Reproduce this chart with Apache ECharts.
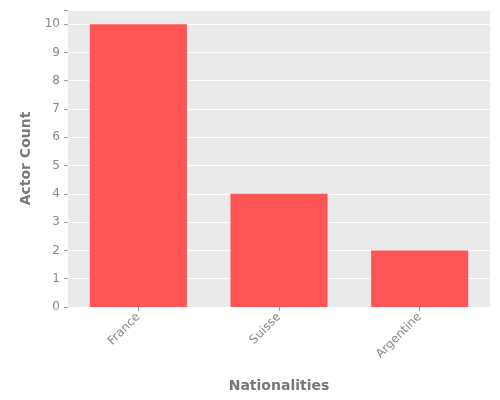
<!DOCTYPE html>
<html>
<head>
<meta charset="utf-8">
<script src="https://cdn.jsdelivr.net/npm/echarts@6/dist/echarts.min.js"></script>
<style>html,body{margin:0;padding:0;background:#fff}#c{width:500px;height:400px}</style>
</head>
<body>
<div id="c"></div>
<script>
const categories = ['France', 'Suisse', 'Argentine'];
const counts = [10, 4, 2];

const chart = echarts.init(document.getElementById('c'));
chart.setOption({
  animation: false,
  textStyle: { fontFamily: 'DejaVu Sans' },
  grid: {
    left: 68, right: 10, top: 10, bottom: 93,
    show: true, backgroundColor: '#ebebeb', borderWidth: 0
  },
  xAxis: {
    type: 'category',
    data: categories,
    name: 'Nationalities',
    nameLocation: 'middle',
    nameGap: 72,
    nameTextStyle: { fontSize: 14, fontWeight: 'bold', color: '#777' },
    axisLine: { show: false },
    axisTick: { show: true, alignWithLabel: true, length: 4, lineStyle: { color: '#999' } },
    axisLabel: { rotate: 45, color: '#888', fontSize: 12, margin: 8 },
    splitLine: { show: false }
  },
  yAxis: {
    type: 'value',
    min: 0, max: 10.5, interval: 1,
    name: 'Actor Count',
    nameLocation: 'middle',
    nameGap: 34,
    nameTextStyle: { fontSize: 14, fontWeight: 'bold', color: '#777' },
    axisLine: { show: false },
    axisTick: { show: true, length: 4, lineStyle: { color: '#999' } },
    axisLabel: { color: '#888', fontSize: 12, margin: 8,
      formatter: v => Number.isInteger(v) ? v : '' },
    splitLine: { show: true, lineStyle: { color: '#fff', width: 1 } }
  },
  series: [{
    type: 'bar',
    data: counts,
    barWidth: '69%',
    itemStyle: { color: '#ff5555' }
  }]
});
</script>
</body>
</html>
